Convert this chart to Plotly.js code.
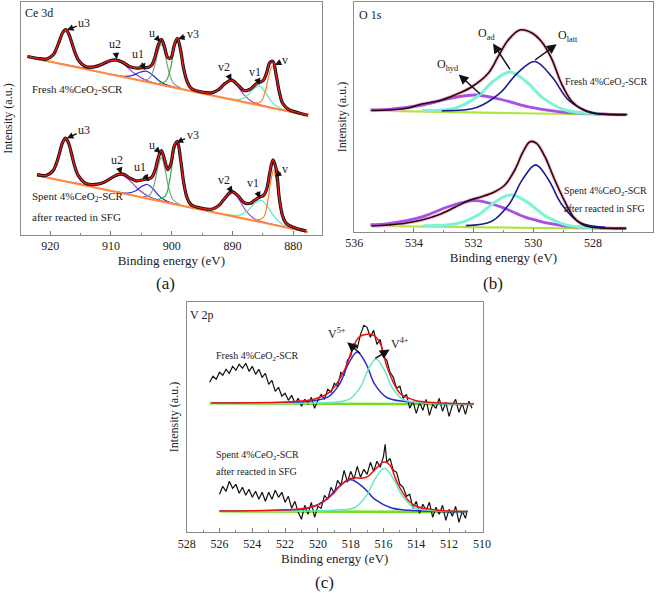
<!DOCTYPE html>
<html>
<head>
<meta charset="utf-8">
<script src="https://cdn.plot.ly/plotly-3.0.1.min.js"></script>
<style>html,body{margin:0;padding:0;background:#fff;}#chart{width:660px;height:593px;}</style>
</head>
<body>
<div id="chart"></div>
<script>
// ---------- Panel (a) Ce 3d : fresh (upper) ----------
const ceFreshBgX = [923.74, 877.54];
const ceFreshBgY = [178.0, 119.5];
const ceFreshEnvX = [923.74, 921.64, 920.59, 919.54, 919.02, 918.49, 917.97, 917.44, 916.92, 916.39, 915.87, 915.34, 914.29, 913.24, 912.19, 911.14, 910.09, 909.04, 907.99, 906.94, 905.89, 904.84, 904.32, 903.79, 903.27, 902.74, 902.22, 901.69, 901.17, 900.64, 900.12, 899.59, 899.07, 898.54, 898.02, 897.49, 896.97, 896.44, 895.39, 894.34, 893.29, 892.24, 891.19, 890.14, 889.09, 888.04, 886.99, 886.47, 885.94, 885.42, 884.89, 884.37, 883.84, 883.32, 882.79, 882.27, 881.74, 880.69, 879.64, 878.59, 877.54];
const ceFreshEnvY = [178.5, 176.3, 176.0, 179.8, 185.6, 193.9, 202.0, 205.3, 200.7, 191.3, 181.7, 174.8, 168.8, 167.8, 169.1, 171.8, 174.5, 174.9, 172.5, 168.6, 167.0, 167.3, 167.4, 167.7, 169.9, 178.0, 189.9, 195.6, 188.3, 177.4, 177.2, 189.3, 196.7, 185.3, 166.4, 154.1, 148.0, 145.4, 143.5, 142.3, 142.4, 145.5, 151.6, 154.8, 150.0, 144.3, 146.2, 149.0, 151.9, 153.0, 154.8, 162.1, 172.4, 173.7, 159.8, 142.8, 131.7, 125.3, 123.1, 121.3, 119.8];
const ceFreshU3X = [921.64, 920.07, 919.02, 918.23, 917.44, 916.65, 915.87, 914.82, 913.24];
const ceFreshU3Y = [176.2, 176.8, 185.3, 197.9, 205.0, 195.9, 181.3, 170.1, 165.5];
const ceFreshU2X = [923.74, 916.50, 913.67, 911.78, 910.36, 908.94, 907.52, 906.10, 904.21, 901.38];
const ceFreshU2Y = [178.1, 169.2, 166.8, 168.6, 172.6, 174.3, 169.0, 161.4, 154.8, 150.1];
const ceFreshU1X = [909.76, 907.68, 906.29, 905.25, 904.21, 903.17, 902.13, 900.74, 898.66];
const ceFreshU1Y = [160.5, 158.7, 159.9, 162.7, 163.8, 160.1, 154.6, 149.9, 146.4];
const ceFreshUX = [904.89, 903.69, 902.89, 902.29, 901.69, 901.09, 900.49, 899.69, 898.49];
const ceFreshUY = [155.0, 156.6, 167.1, 182.4, 191.1, 180.8, 164.1, 151.6, 147.0];
const ceFreshV3X = [902.09, 900.96, 900.20, 899.64, 899.07, 898.50, 897.94, 897.18, 896.05];
const ceFreshV3Y = [151.7, 153.9, 166.4, 184.3, 194.8, 183.0, 163.5, 149.1, 144.0];
const ceFreshV2X = [895.69, 893.61, 892.22, 891.18, 890.14, 889.10, 888.06, 886.67, 884.59, 877.54];
const ceFreshV2Y = [142.9, 141.7, 145.1, 151.0, 154.0, 148.3, 139.8, 132.9, 128.8, 119.6];
const ceFreshV1X = [890.66, 888.77, 887.51, 886.57, 885.62, 884.67, 883.73, 882.47, 880.58];
const ceFreshV1Y = [136.6, 135.6, 139.5, 145.9, 149.2, 143.5, 134.7, 127.7, 123.8];
const ceFreshVX = [886.44, 885.31, 884.55, 883.99, 883.42, 882.85, 882.29, 881.53, 880.40];
const ceFreshVY = [131.8, 133.4, 144.3, 159.9, 169.0, 158.6, 141.4, 128.7, 124.1];

// ---------- Panel (a) Ce 3d : spent (lower) ----------
const ceSpentBgX = [922.17, 877.54];
const ceSpentBgY = [59.5, 3.0];
const ceSpentEnvX = [922.17, 921.64, 920.59, 919.54, 919.02, 918.49, 917.97, 917.44, 916.92, 916.39, 915.87, 915.34, 914.29, 913.24, 912.19, 911.14, 910.09, 909.04, 907.99, 906.94, 905.89, 904.84, 904.32, 903.79, 903.27, 902.74, 902.22, 901.69, 901.17, 900.64, 900.12, 899.59, 899.07, 898.54, 898.02, 897.49, 896.97, 896.44, 895.39, 894.34, 893.29, 892.24, 891.19, 890.14, 889.09, 888.04, 886.99, 886.47, 885.94, 885.42, 884.89, 884.37, 883.84, 883.32, 882.79, 882.27, 881.74, 881.22, 880.69, 879.64, 878.59, 877.85];
const ceSpentEnvY = [60.4, 59.8, 59.7, 64.1, 70.8, 81.2, 92.2, 96.8, 91.0, 78.8, 67.0, 59.1, 52.2, 50.5, 50.8, 52.8, 56.4, 60.1, 60.9, 57.2, 54.2, 55.0, 55.8, 56.0, 57.8, 64.6, 77.1, 84.3, 75.5, 65.3, 71.5, 88.7, 93.7, 76.1, 52.7, 37.7, 31.4, 29.1, 27.2, 26.0, 26.0, 29.4, 37.2, 43.4, 39.4, 32.3, 31.8, 34.2, 36.4, 38.3, 39.5, 45.6, 62.3, 75.1, 65.9, 36.4, 19.2, 12.2, 9.6, 7.1, 5.1, 3.9];
const ceSpentU3X = [921.47, 919.96, 918.95, 918.20, 917.44, 916.68, 915.93, 914.92, 913.41];
const ceSpentU3Y = [59.6, 60.9, 71.7, 87.5, 96.5, 85.6, 68.0, 54.5, 49.5];
const ceSpentU2X = [922.17, 915.76, 912.93, 911.04, 909.62, 908.20, 906.78, 905.36, 903.47, 900.64];
const ceSpentU2Y = [59.6, 51.8, 49.6, 52.2, 57.4, 59.8, 53.8, 45.0, 37.7, 32.7];
const ceSpentU1X = [909.04, 907.15, 905.89, 904.95, 904.00, 903.05, 902.11, 900.85, 898.96];
const ceSpentU1Y = [43.2, 41.9, 44.2, 48.5, 50.5, 46.1, 39.4, 33.9, 30.4];
const ceSpentUX = [904.71, 903.58, 902.82, 902.26, 901.69, 901.12, 900.56, 899.80, 898.67];
const ceSpentUY = [38.4, 40.3, 51.8, 68.1, 77.6, 66.7, 48.8, 35.5, 30.7];
const ceSpentV3X = [902.19, 901.06, 900.30, 899.74, 899.17, 898.60, 898.04, 897.28, 896.15];
const ceSpentV3Y = [35.7, 38.8, 55.4, 78.7, 92.4, 77.3, 52.4, 34.0, 27.9];
const ceSpentV2X = [895.48, 893.40, 892.01, 890.97, 889.93, 888.89, 887.85, 886.46, 884.38, 877.54];
const ceSpentV2Y = [26.2, 25.4, 30.3, 38.0, 42.2, 35.4, 24.9, 16.6, 12.1, 3.1];
const ceSpentV1X = [891.19, 888.99, 887.52, 886.41, 885.31, 884.21, 883.10, 881.63, 879.43];
const ceSpentV1Y = [20.8, 19.6, 23.9, 31.1, 34.8, 28.3, 18.3, 10.3, 5.9];
const ceSpentVX = [885.90, 884.89, 884.22, 883.71, 883.21, 882.71, 882.20, 881.53, 880.52];
const ceSpentVY = [14.9, 17.6, 32.3, 53.0, 65.2, 51.7, 29.7, 13.4, 8.0];

// ---------- Panel (b) O 1s ----------
const oFreshBgX = [535.46, 526.89];
const oFreshBgY = [121.3, 117.0];
const oFreshEnvX = [535.42, 534.30, 533.74, 533.19, 532.63, 532.07, 531.51, 531.18, 530.84, 530.45, 530.06, 529.72, 529.39, 529.05, 528.72, 528.38, 528.05, 527.60, 526.88];
const oFreshEnvY = [121.5, 123.5, 128.0, 131.0, 137.0, 145.0, 158.7, 175.3, 192.0, 202.0, 199.3, 190.3, 173.7, 148.0, 131.0, 123.0, 119.0, 117.8, 117.2];
const oFreshHydX = [535.46, 534.87, 533.70, 532.83, 531.95, 531.07, 530.20, 529.03, 527.28, 526.89];
const oFreshHydY = [122.2, 122.7, 127.0, 133.4, 137.0, 132.5, 125.3, 119.8, 117.6, 117.3];
const oFreshAdX = [533.74, 532.63, 531.89, 531.34, 530.78, 530.23, 529.67, 528.93, 527.82];
const oFreshAdY = [121.4, 123.9, 135.0, 150.7, 159.9, 150.2, 133.9, 122.0, 118.4];
const oFreshLattX = [533.07, 531.90, 531.12, 530.54, 529.95, 529.37, 528.79, 528.01, 526.84];
const oFreshLattY = [121.3, 124.5, 138.8, 158.7, 170.5, 155.0, 131.0, 119.5, 117.5];

const oSpentBgX = [535.46, 526.89];
const oSpentBgY = [6.0, 3.0];
const oSpentEnvX = [535.42, 534.86, 534.30, 533.74, 533.19, 532.63, 532.18, 531.73, 531.29, 530.95, 530.62, 530.34, 530.11, 529.89, 529.61, 529.28, 528.94, 528.66, 528.38, 528.05, 527.49, 526.88];
const oSpentEnvY = [6.0, 7.0, 8.7, 12.0, 17.0, 24.7, 31.3, 35.3, 40.3, 47.0, 62.0, 80.3, 90.3, 88.7, 75.3, 52.0, 30.3, 15.3, 8.0, 4.7, 3.7, 3.7];
const oSpentHydX = [535.46, 534.87, 533.70, 532.83, 531.95, 531.07, 530.20, 529.03, 527.28, 526.89];
const oSpentHydY = [7.4, 8.4, 15.4, 25.5, 31.3, 24.9, 14.2, 6.3, 3.7, 3.5];
const oSpentAdX = [533.69, 532.58, 531.84, 531.29, 530.73, 530.18, 529.62, 528.88, 527.77];
const oSpentAdY = [6.2, 8.2, 17.2, 29.8, 37.3, 29.4, 16.5, 6.9, 4.1];
const oSpentLattX = [532.26, 531.39, 530.80, 530.36, 529.92, 529.49, 529.05, 528.46, 527.59];
const oSpentLattY = [6.4, 10.7, 28.3, 52.6, 67.1, 52.3, 27.7, 9.7, 4.7];

// ---------- Panel (c) V 2p ----------
const vFreshBgX = [526.6, 510.5];
const vFreshBgY = [129.0, 128.0];
const vFreshRawX = [526.6, 526.4, 526.2, 526.0, 525.8, 525.6, 525.4, 525.2, 525.0, 524.8, 524.6, 524.4, 524.2, 524.0, 523.8, 523.6, 523.4, 523.2, 523.0, 522.8, 522.6, 522.4, 522.2, 522.0, 521.8, 521.6, 521.4, 521.2, 521.0, 520.8, 520.6, 520.4, 520.2, 520.0, 519.8, 519.6, 519.4, 519.2, 519.0, 518.8, 518.6, 518.4, 518.2, 518.0, 517.8, 517.6, 517.4, 517.2, 517.0, 516.8, 516.6, 516.4, 516.2, 516.0, 515.8, 515.6, 515.4, 515.2, 515.0, 514.8, 514.6, 514.4, 514.2, 514.0, 513.8, 513.6, 513.4, 513.2, 513.0, 512.8, 512.6, 512.4, 512.2, 512.0, 511.8, 511.6, 511.4, 511.2, 511.0, 510.8, 510.6];
const vFreshRawY = [150, 156, 153, 160, 157, 163, 159, 166, 162, 168, 164, 169, 161, 166, 158, 163, 155, 159, 148, 152, 141, 145, 136, 139, 132, 137, 129, 134, 126, 133, 128, 135, 124, 132, 138, 133, 143, 140, 149, 146, 160, 157, 172, 176, 189, 184, 198, 207, 205, 195, 202, 188, 193, 176, 172, 160, 155, 144, 146, 134, 138, 124, 131, 119, 130, 122, 133, 117, 128, 124, 134, 121, 130, 116, 127, 133, 120, 129, 118, 131, 124];
const vFreshEnvX = [526.5, 524.0, 522.0, 521.0, 520.3, 519.8, 519.3, 518.8, 518.3, 517.9, 517.5, 517.0, 516.6, 516.2, 515.8, 515.4, 515.0, 514.5, 514.0, 513.0, 512.0, 510.5];
const vFreshEnvY = [129.2, 129.5, 130.3, 131.2, 132.8, 135.5, 140.0, 150.0, 165.0, 183.0, 195.0, 198.0, 197.0, 189.0, 166.0, 150.0, 139.0, 134.5, 131.5, 129.8, 129.0, 128.5];
const vFreshV5X = [526.5, 521.6, 520.5, 519.4, 518.7, 518.14, 517.6, 517.06, 516.52, 515.8, 514.7, 513.6, 510.5];
const vFreshV5Y = [129.2, 129.9, 131.1, 135.1, 147.7, 168.5, 180.4, 168.4, 147.6, 134.8, 130.8, 129.4, 128.2];
const vFreshV4X = [526.5, 520.5, 519.0, 518.05, 517.4, 516.93, 516.45, 515.97, 515.49, 514.85, 513.9, 512.4, 510.5];
const vFreshV4Y = [129.1, 129.1, 130.0, 133.5, 145.4, 163.0, 173.4, 162.9, 145.3, 133.3, 129.7, 128.6, 128.1];

const vSpentBgX = [526.0, 510.9];
const vSpentBgY = [21.0, 20.3];
const vSpentRawX = [526.0, 525.8, 525.6, 525.4, 525.2, 525.0, 524.8, 524.6, 524.4, 524.2, 524.0, 523.8, 523.6, 523.4, 523.2, 523.0, 522.8, 522.6, 522.4, 522.2, 522.0, 521.8, 521.6, 521.4, 521.2, 521.0, 520.8, 520.6, 520.4, 520.2, 520.0, 519.8, 519.6, 519.4, 519.2, 519.0, 518.8, 518.6, 518.4, 518.2, 518.0, 517.8, 517.6, 517.4, 517.2, 517.0, 516.8, 516.6, 516.4, 516.2, 516.0, 515.9, 515.8, 515.6, 515.4, 515.2, 515.0, 514.8, 514.6, 514.4, 514.2, 514.0, 513.8, 513.6, 513.4, 513.2, 513.0, 512.8, 512.6, 512.4, 512.2, 512.0, 511.8, 511.6, 511.4, 511.2, 511.0, 510.9];
const vSpentRawY = [38, 46, 41, 51, 44, 48, 39, 45, 37, 43, 35, 41, 33, 40, 31, 40, 33, 42, 35, 40, 30, 36, 24, 31, 20, 13, 27, 18, 30, 15, 26, 24, 37, 33, 45, 39, 52, 47, 62, 50, 61, 53, 66, 55, 63, 58, 70, 61, 71, 65, 76, 88, 70, 74, 62, 60, 48, 45, 36, 38, 24, 31, 19, 28, 22, 30, 15, 25, 18, 27, 12, 23, 16, 26, 10, 21, 14, 22];
const vSpentEnvX = [526.0, 524.0, 522.0, 521.0, 520.3, 519.8, 519.2, 518.7, 518.3, 518.0, 517.7, 517.3, 516.9, 516.5, 516.1, 515.9, 515.6, 515.2, 514.8, 514.4, 514.0, 513.5, 512.5, 511.5, 510.9];
const vSpentEnvY = [21.3, 21.6, 22.5, 23.5, 25.5, 29.0, 36.5, 45.5, 51.5, 53.8, 54.5, 54.0, 56.5, 63.0, 69.5, 70.2, 67.0, 51.0, 39.0, 30.5, 26.0, 24.0, 21.8, 21.0, 20.8];
const vSpentV5X = [526.0, 522.5, 521.5, 520.5, 519.5, 518.75, 518.0, 517.25, 516.5, 515.5, 514.5, 513.5, 510.9];
const vSpentV5Y = [21.2, 21.8, 22.4, 24.5, 32.8, 45.3, 52.6, 45.2, 32.7, 24.3, 22.1, 21.4, 20.5];
const vSpentV4X = [526.0, 520.5, 518.83, 517.75, 517.03, 516.49, 515.95, 515.41, 514.87, 514.15, 513.07, 511.5, 510.9];
const vSpentV4Y = [21.1, 21.3, 22.2, 24.8, 37.1, 54.0, 64.0, 53.9, 37.0, 24.6, 21.9, 20.9, 20.7];

// tick labels
const ceTicks = [920, 910, 900, 890, 880];
const oTicks = [536, 534, 532, 530, 528, 526];
const vTicks = [528, 526, 524, 522, 520, 518, 516, 514, 512, 510];

// ---------- build traces ----------
const traces = [];
function line(x, y, color, width, ax, smooth) {
  traces.push({
    type: 'scatter', mode: 'lines', x: x, y: y,
    xaxis: ax[0], yaxis: ax[1], hoverinfo: 'skip',
    line: {color: color, width: width, shape: smooth ? 'spline' : 'linear', smoothing: 1}
  });
}
const A = ['x', 'y'], B = ['x2', 'y2'], C = ['x3', 'y3'];
const col = {
  u3: '#23804a', u2: '#9a3ccc', u1: '#2a2ad2', u: '#869a86', v3: '#22b43a',
  v2: '#b045d8', v1: '#5fe6c4', v: '#ff7f24', bg: '#ff8a3c'
};
// panel a
[[ceFreshU2X, ceFreshU2Y, col.u2], [ceFreshV2X, ceFreshV2Y, col.v2], [ceFreshU3X, ceFreshU3Y, col.u3],
 [ceFreshU1X, ceFreshU1Y, col.u1], [ceFreshUX, ceFreshUY, col.u], [ceFreshV3X, ceFreshV3Y, col.v3],
 [ceFreshV1X, ceFreshV1Y, col.v1], [ceFreshVX, ceFreshVY, col.v],
 [ceSpentU2X, ceSpentU2Y, col.u2], [ceSpentV2X, ceSpentV2Y, col.v2], [ceSpentU3X, ceSpentU3Y, col.u3],
 [ceSpentU1X, ceSpentU1Y, col.u1], [ceSpentUX, ceSpentUY, col.u], [ceSpentV3X, ceSpentV3Y, col.v3],
 [ceSpentV1X, ceSpentV1Y, col.v1], [ceSpentVX, ceSpentVY, col.v]
].forEach(p => line(p[0], p[1], p[2], 1.2, A, true));
line(ceFreshBgX, ceFreshBgY, col.bg, 2, A, false);
line(ceSpentBgX, ceSpentBgY, col.bg, 2, A, false);
line(ceFreshEnvX, ceFreshEnvY, '#111', 3.2, A, true);
line(ceSpentEnvX, ceSpentEnvY, '#111', 3.2, A, true);
line(ceFreshEnvX, ceFreshEnvY, '#f01818', 1.4, A, true);
line(ceSpentEnvX, ceSpentEnvY, '#f01818', 1.4, A, true);

// panel b
line(oFreshBgX, oFreshBgY, '#b2e24a', 2.2, B, false);
line(oSpentBgX, oSpentBgY, '#b2e24a', 2.2, B, false);
line(oFreshEnvX, oFreshEnvY, '#f6bcd4', 3.6, B, true);
line(oSpentEnvX, oSpentEnvY, '#f6bcd4', 3.6, B, true);
line(oFreshHydX, oFreshHydY, '#a850e4', 2.8, B, true);
line(oSpentHydX, oSpentHydY, '#a850e4', 2.8, B, true);
line(oFreshAdX, oFreshAdY, '#7cf2d6', 3, B, true);
line(oSpentAdX, oSpentAdY, '#7cf2d6', 3, B, true);
line(oFreshLattX, oFreshLattY, '#1c1c8c', 1.6, B, true);
line(oSpentLattX, oSpentLattY, '#1c1c8c', 1.6, B, true);
line(oFreshEnvX, oFreshEnvY, '#2a0808', 1.6, B, true);
line(oSpentEnvX, oSpentEnvY, '#2a0808', 1.6, B, true);

// panel c
line(vFreshBgX, vFreshBgY, '#77dd22', 2.6, C, false);
line(vSpentBgX, vSpentBgY, '#77dd22', 2.6, C, false);
line(vFreshRawX, vFreshRawY, '#111', 1.2, C, false);
line(vSpentRawX, vSpentRawY, '#111', 1.2, C, false);
line(vFreshV5X, vFreshV5Y, '#2b2bd0', 1.5, C, true);
line(vSpentV5X, vSpentV5Y, '#2b2bd0', 1.5, C, true);
line(vFreshV4X, vFreshV4Y, '#66e8c8', 1.5, C, true);
line(vSpentV4X, vSpentV4Y, '#66e8c8', 1.5, C, true);
line(vFreshEnvX, vFreshEnvY, '#ee1111', 1.5, C, true);
line(vSpentEnvX, vSpentEnvY, '#ee1111', 1.5, C, true);

// ---------- axes ----------
const FONT = 'Liberation Serif';
function xax(domain, range, ticks, minor, anchor) {
  return {
    domain: domain, range: range, anchor: anchor, tickmode: 'array', tickvals: ticks,
    ticks: 'inside', ticklen: 4, tickcolor: '#777', tickwidth: 1,
    minor: {dtick: minor, ticks: 'inside', ticklen: 2, tickcolor: '#888', showgrid: false},
    showline: true, linecolor: '#8a8a8a', linewidth: 1, mirror: true,
    showgrid: false, zeroline: false, automargin: false,
    tickfont: {family: FONT, size: 12, color: '#222'},
    title: {text: 'Binding energy (eV)', font: {family: FONT, size: 13, color: '#222'}, standoff: 3}
  };
}
function yax(domain, top, anchor) {
  return {
    domain: domain, range: [0, top], anchor: anchor, showticklabels: false, ticks: '',
    showline: true, linecolor: '#8a8a8a', linewidth: 1, mirror: true,
    showgrid: false, zeroline: false, automargin: false,
    title: {text: 'Intensity (a.u.)', font: {family: FONT, size: 12, color: '#222'}, standoff: 4}
  };
}

// ---------- annotations ----------
const ann = [];
function txt(x, y, text, ref, size, anchor) {
  ann.push({x: x, y: y, xref: ref[0], yref: ref[1], text: text, showarrow: false,
    xanchor: anchor || 'left', yanchor: 'middle', font: {family: FONT, size: size, color: '#1a1a1a'}});
}
function peak(x, y, tx, ty, text, ref) {
  ann.push({x: x, y: y, ax: tx, ay: ty, xref: ref[0], yref: ref[1], axref: ref[0], ayref: ref[1],
    text: text, showarrow: true, arrowhead: 2, arrowsize: 1, arrowwidth: 1.3, arrowcolor: '#111',
    font: {family: FONT, size: 12, color: '#1a1a1a'}});
}
function tag(x, y, tx, ty, text, ref) {
  ann.push({x: x, y: y, ax: tx, ay: ty, xref: ref[0], yref: ref[1], axref: ref[0], ayref: ref[1],
    text: text, showarrow: true, arrowside: 'start', startarrowhead: 2, startarrowsize: 1.3,
    arrowwidth: 1.5, arrowcolor: '#111', font: {family: FONT, size: 12, color: '#1a1a1a'}});
}
// panel a
txt(924.4, 222, 'Ce 3d', A, 12);
txt(923.29, 145, 'Fresh 4%CeO<sub>2</sub>-SCR', A, 11);
txt(923.29, 38.3, 'Spent 4%CeO<sub>2</sub>-SCR', A, 11);
txt(923.29, 18.3, 'after reacted in SFG', A, 11);
peak(917.23, 205, 914.40, 211.7, 'u3', A);
peak(909.04, 175.7, 909.36, 190.7, 'u2', A);
peak(904.42, 165, 905.47, 180.7, 'u1', A);
peak(901.80, 193.3, 903.27, 201.7, 'u', A);
peak(898.96, 196, 896.55, 200.7, 'v3', A);
peak(890.14, 154.3, 891.40, 168.3, 'v2', A);
peak(885.52, 150, 886.36, 163.3, 'v1', A);
peak(883.0, 170, 881.32, 175, 'v', A);
peak(917.23, 96.7, 914.40, 105, 'u3', A);
peak(908.31, 61, 909.04, 75, 'u2', A);
peak(903.79, 54, 905.26, 68.3, 'u1', A);
peak(901.80, 81.7, 903.27, 90, 'u', A);
peak(899.17, 92.3, 896.55, 100, 'v3', A);
peak(889.93, 42.3, 891.40, 55, 'v2', A);
peak(885.42, 36.7, 886.57, 51.7, 'v1', A);
peak(883.0, 58.3, 881.32, 65.7, 'v', A);
// panel b
txt(535.91, 217, 'O 1s', B, 12);
txt(529.01, 149.3, 'Fresh 4%CeO<sub>2</sub>-SCR', B, 10);
txt(529.04, 40.3, 'Spent 4%CeO<sub>2</sub>-SCR', B, 10);
txt(529.04, 23.7, 'after reacted in SFG', B, 10);
tag(531.78, 138, 532.85, 167, 'O<sub>hyd</sub>', B);
tag(530.78, 162.7, 531.56, 198, 'O<sub>ad</sub>', B);
tag(529.94, 172, 528.83, 196, 'O<sub>latt</sub>', B);
// panel c
txt(527.92, 217.3, 'V 2p', C, 12);
txt(526.35, 175.6, 'Fresh 4%CeO<sub>2</sub>-SCR', C, 10);
txt(526.33, 77.3, 'Spent 4%CeO<sub>2</sub>-SCR', C, 10);
txt(526.33, 60.6, 'after reacted in SFG', C, 10);
tag(517.43, 179, 518.85, 199, 'V<sup>5+</sup>', C);
tag(516.5, 174, 514.98, 189, 'V<sup>4+</sup>', C);
// panel letters
[['(a)', 0.25, 1 - 283 / 593], ['(b)', 0.747, 1 - 283 / 593], ['(c)', 0.4924, 1 - 582 / 593]].forEach(p => {
  ann.push({x: p[1], y: p[2], xref: 'paper', yref: 'paper', text: p[0], showarrow: false,
    xanchor: 'center', yanchor: 'middle', font: {family: FONT, size: 17, color: '#1a1a1a'}});
});

const layout = {
  width: 660, height: 593, margin: {l: 0, r: 0, t: 0, b: 0},
  paper_bgcolor: '#fff', plot_bgcolor: '#fff', showlegend: false,
  font: {family: FONT, size: 12, color: '#222'},
  xaxis: xax([21 / 660, 321.7 / 660], [924.8, 875.3], ceTicks, 5, 'y'),
  yaxis: yax([1 - 235 / 593, 1 - 2 / 593], 233, 'x'),
  xaxis2: xax([354.3 / 660, 652.6 / 660], [536, 526], oTicks, 1, 'y2'),
  yaxis2: yax([1 - 232 / 593, 1 - 2 / 593], 230, 'x2'),
  xaxis3: xax([186.7 / 660, 482.7 / 660], [528, 509.95], vTicks, 1, 'y3'),
  yaxis3: yax([1 - 532.3 / 593, 1 - 301.7 / 593], 230.6, 'x3'),
  annotations: ann
};
Plotly.newPlot('chart', traces, layout, {displayModeBar: false, staticPlot: true});
</script>
</body>
</html>
